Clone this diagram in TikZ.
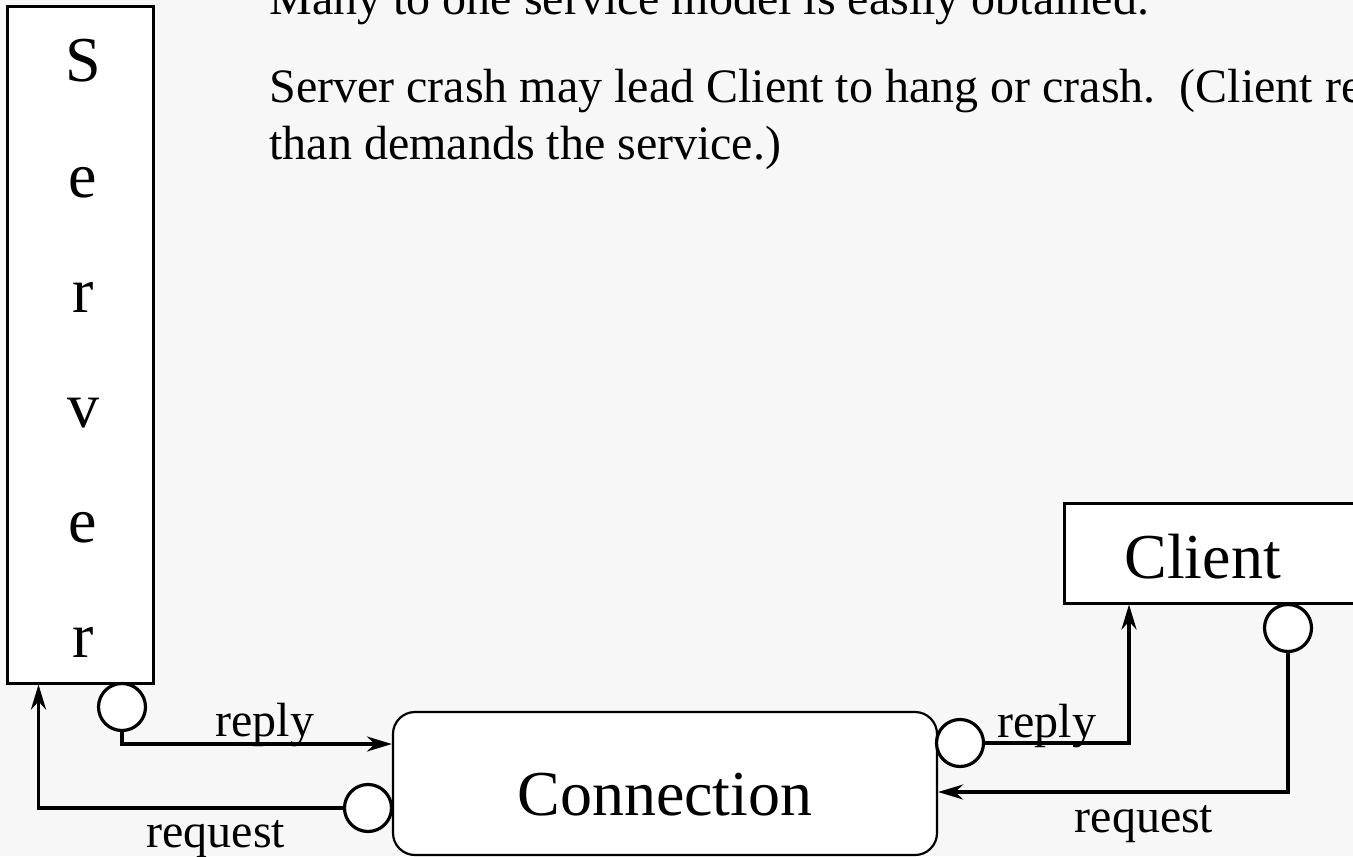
\documentclass[tikz,border=0pt]{standalone}
\usepackage{fontspec}
\setmainfont{Liberation Serif}
\usetikzlibrary{arrows.meta}
\definecolor{slidebg}{HTML}{F7F7F7}

\begin{document}
\begin{tikzpicture}[x=0.5pt, y=-0.5pt,
  >={Stealth[length=12.5pt, width=7.5pt, inset=4pt]},
  box/.style={draw, fill=white, line width=1.5pt, inner sep=0pt},
  port/.style={circle, draw, fill=white, line width=1.6pt, minimum size=23.5pt, inner sep=0pt},
  wire/.style={line width=1.8pt},
  big/.style={font=\fontsize{32}{38}\selectfont},
  txt/.style={font=\fontsize{24}{28}\selectfont, inner sep=0pt}]
\useasboundingbox (0,0) rectangle (1353,856);
\clip (0,0) rectangle (1353,856);
\fill[slidebg] (0,0) rectangle (1353,856);
\node[txt, anchor=base west] at (269, 15)  (line1) {Many to one service model is easily obtained.};
\node[txt, anchor=base west] at (269, 103) (line2) {Server crash may lead Client to hang or crash.\ \ (Client re};
\node[txt, anchor=base west] at (269, 159) (line3) {than demands the service.)};
\node[box, minimum width=73pt, minimum height=338pt] at (80, 345) (server) {};
\foreach \l [count=\i] in {S,e,r,v,e,r}
  \node[big, anchor=base] at (83, {82+115*(\i-1)}) (srv\i) {\l};
\node[box, big, line width=1.1pt, rounded corners=11pt, minimum width=272pt,
  minimum height=71.5pt, text height=32pt, text depth=0pt] at (665, 783.5) (conn) {Connection};
\node[box, big, anchor=west, minimum height=50pt, text height=25pt, text depth=0pt,
  inner xsep=30pt, text width=150pt, align=left] at (1063, 553) (client) {Client};
\node[port] at (122, 707)  (srvport) {};
\node[port] at (368, 808)  (conreq) {};
\node[port] at (960, 743)  (conrep) {};
\node[port] at (1288, 628) (cliport) {};
\draw[wire, ->] (srvport.south) |- ([yshift=19.75pt]conn.west);
\draw[wire, ->] (conreq.west) -| ([xshift=16.5pt]server.south west);
\draw[wire, ->] (conrep.east) -| ([xshift=33pt]client.south west);
\draw[wire, ->] (cliport.south) |- ([yshift=-4.25pt]conn.east);
\node[txt, anchor=base] at (265, 736)  (reply1) {reply};
\node[txt, anchor=base] at (216, 847)  (request1) {request};
\node[txt, anchor=base] at (1047, 737) (reply2) {reply};
\node[txt, anchor=base] at (1144, 832) (request2) {request};
\end{tikzpicture}
\end{document}
